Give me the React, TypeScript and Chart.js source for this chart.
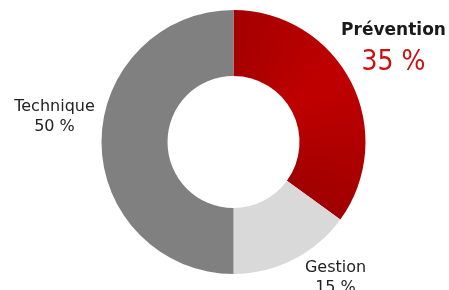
import React, { useEffect, useRef } from "react";
import { Chart, registerables } from "chart.js";

Chart.register(...registerables);

const categories = ["Prévention", "Gestion", "Technique"];
const values = [35, 15, 50];
const valueLabels = ["35 %", "15 %", "50 %"];

const labelPlugin = {
  id: "sliceLabels",
  afterDraw(chart: any) {
    const ctx = chart.ctx;
    const meta = chart.getDatasetMeta(0);
    ctx.save();
    ctx.textAlign = "center";
    ctx.textBaseline = "alphabetic";
    const F = "'DejaVu Sans'";
    const FC = "'DejaVu Sans Condensed', 'DejaVu Sans'";
    const cfg = [
      { nameFont: `bold 17px ${F}`, nameColor: "#1a1a1a", valFont: `28px ${FC}`, valColor: "#cc1010", dx: 160, dy: -107, gap: 35 },
      { nameFont: `16px ${F}`, nameColor: "#222", valFont: `16px ${F}`, valColor: "#222", dx: 102, dy: 130, gap: 20 },
      { nameFont: `16px ${F}`, nameColor: "#222", valFont: `16px ${F}`, valColor: "#222", dx: -179, dy: -31, gap: 20 },
    ];
    const arc = meta.data[0];
    const cx = arc.x, cy = arc.y;
    categories.forEach((name, i) => {
      const c = cfg[i];
      ctx.font = c.nameFont;
      ctx.fillStyle = c.nameColor;
      ctx.fillText(name, cx + c.dx, cy + c.dy);
      ctx.font = c.valFont;
      ctx.fillStyle = c.valColor;
      ctx.fillText(valueLabels[i], cx + c.dx, cy + c.dy + c.gap);
    });
    ctx.restore();
  },
};

export default function App() {
  const ref = useRef<HTMLCanvasElement>(null);
  useEffect(() => {
    if (!ref.current) return;
    const chart = new Chart(ref.current, {
      type: "doughnut",
      data: {
        labels: categories,
        datasets: [
          {
            data: values,
            backgroundColor: (c: any) => {
              const i = c.dataIndex;
              if (i === 0) {
                const ch = c.chart;
                const area = ch.chartArea;
                if (!area) return "#b30000";
                const cx = (area.left + area.right) / 2;
                const cy = (area.top + area.bottom) / 2;
                const g = ch.ctx.createConicGradient(-Math.PI / 2, cx, cy);
                g.addColorStop(0, "#a50000");
                g.addColorStop(0.16, "#c00000");
                g.addColorStop(0.35, "#a00000");
                g.addColorStop(1, "#a00000");
                return g;
              }
              return i === 1 ? "#d9d9d9" : "#808080";
            },
            borderWidth: 0,
          },
        ],
      },
      options: {
        animation: false,
        responsive: false,
        cutout: "50%",
        layout: { padding: { left: 18, right: 0, top: 10, bottom: 16 } },
        plugins: { legend: { display: false }, tooltip: { enabled: false } },
      },
      plugins: [labelPlugin],
    });
    return () => chart.destroy();
  }, []);
  return (
    <div style={{ position: "fixed", left: 0, top: 0, width: 449, height: 290, background: "#fff" }}>
      <canvas ref={ref} width={449} height={290} style={{ display: "block" }} />
    </div>
  );
}
